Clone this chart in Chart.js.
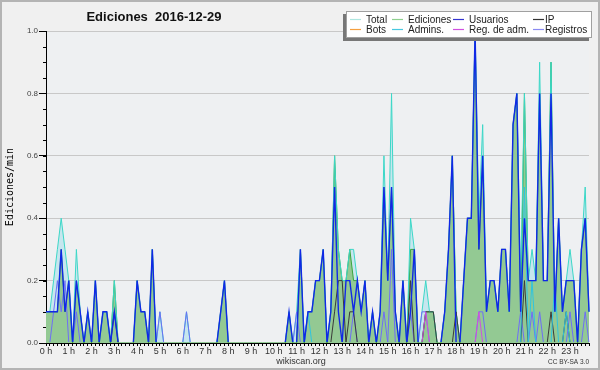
<!DOCTYPE html>
<html>
<head>
<meta charset="utf-8">
<script src="https://cdn.jsdelivr.net/npm/chart.js@4.4.1/dist/chart.umd.min.js"></script>
<style>
  html, body { margin: 0; padding: 0; background: #f0f0f0; }
  #wrap { width: 600px; height: 370px; }
</style>
</head>
<body>
<div id="wrap"><canvas id="chart" width="600" height="370"></canvas></div>
<script>
// tramos de 10 minutos, 0:00 .. 23:50
const slots = [];
for (let h = 0; h < 24; h++) for (let m = 0; m < 60; m += 10) slots.push(h + ':' + String(m).padStart(2, '0'));

// ediciones por minuto, una fila por hora (6 tramos)
const total = [
  0.1,0.1,0.2,0.3,0.4,0.3,  0.2,0,0.3,0.1,0,0.1,  0,0.2,0,0.1,0.1,0,  0.2,0,0,0,0,0,
  0.2,0.1,0.1,0,0.3,0,  0.1,0,0,0,0,0,  0,0.1,0,0,0,0,  0,0,0,0,0.1,0.2,
  0,0,0,0,0,0,  0,0,0,0,0,0,  0,0,0,0,0.1,0,  0.1,0.3,0,0.1,0.1,0.2,
  0.2,0.3,0,0.1,0.6,0.3,  0.2,0.2,0.3,0.3,0.2,0.1,  0.2,0,0.1,0,0.1,0.6,  0.2,0.8,0.1,0,0.2,0,
  0.4,0.3,0,0.1,0.2,0.1,  0.1,0,0,0.1,0.3,0.6,  0.1,0,0.2,0.4,0.4,1.0,  0.4,0.7,0.1,0.2,0.2,0.1,
  0.3,0.3,0.1,0.7,0.8,0.2,  0.8,0.2,0.3,0.2,0.9,0.2,  0.2,0.9,0.1,0.4,0.1,0.2,  0.3,0.2,0,0.3,0.5,0.1
];
const ediciones = [
  0.1,0.1,0.1,0.1,0.3,0.1,  0.2,0,0.2,0.1,0,0.1,  0,0.2,0,0.1,0.1,0,  0.2,0,0,0,0,0,
  0.2,0.1,0.1,0,0.3,0,  0,0,0,0,0,0,  0,0,0,0,0,0,  0,0,0,0,0.1,0.2,
  0,0,0,0,0,0,  0,0,0,0,0,0,  0,0,0,0,0.1,0,  0,0.3,0,0.1,0.1,0.2,
  0.2,0.3,0,0.1,0.6,0.3,  0.2,0.2,0.3,0.2,0.2,0.1,  0.2,0,0.1,0,0.1,0.5,  0.2,0.5,0.1,0,0.2,0,
  0.3,0.3,0,0,0.1,0.1,  0.1,0,0,0.1,0.3,0.6,  0.1,0,0.2,0.4,0.4,1.0,  0.3,0.6,0.1,0.2,0.2,0.1,
  0.3,0.3,0.1,0.7,0.8,0.1,  0.8,0.2,0.2,0.2,0.8,0.2,  0.2,0.9,0.1,0.4,0.1,0.2,  0.2,0.2,0,0.3,0.4,0.1
];
const usuarios = [
  0.1,0.1,0.1,0.1,0.3,0.1,  0.2,0,0.2,0.1,0,0.1,  0,0.2,0,0.1,0.1,0,  0.1,0,0,0,0,0,
  0.2,0.1,0.1,0,0.3,0,  0,0,0,0,0,0,  0,0,0,0,0,0,  0,0,0,0,0.1,0.2,
  0,0,0,0,0,0,  0,0,0,0,0,0,  0,0,0,0,0.1,0,  0,0.3,0,0.1,0.1,0.2,
  0.2,0.3,0,0.1,0.5,0.1,  0,0.2,0.2,0.1,0.2,0.1,  0.2,0,0.1,0,0.1,0.5,  0.2,0.5,0.1,0,0.2,0,
  0.1,0.3,0,0,0,0,  0,0,0,0.1,0.3,0.6,  0,0,0.2,0.4,0.4,1.0,  0.3,0.6,0.1,0.2,0.2,0.1,
  0.3,0.3,0.1,0.7,0.8,0.1,  0.4,0.2,0.2,0.2,0.8,0.2,  0.2,0.8,0.1,0.4,0.1,0.2,  0.2,0.2,0,0.3,0.4,0.1
];
const ip = [
  0,0,0,0,0,0,  0,0,0,0,0,0,  0,0,0,0,0,0,  0.1,0,0,0,0,0,
  0,0,0,0,0,0,  0,0,0,0,0,0,  0,0,0,0,0,0,  0,0,0,0,0,0,
  0,0,0,0,0,0,  0,0,0,0,0,0,  0,0,0,0,0,0,  0,0,0,0,0,0,
  0,0,0,0,0.1,0.2,  0.2,0,0.1,0.1,0,0,  0,0,0,0,0,0,  0,0,0,0,0,0,
  0.2,0,0,0,0.1,0.1,  0.1,0,0,0,0,0,  0.1,0,0,0,0,0,  0,0,0,0,0,0,
  0,0,0,0,0,0,  0.2,0,0,0,0,0,  0,0.1,0,0,0,0.1,  0,0,0,0,0,0
];
const bots = new Array(144).fill(0);
const admins = [
  0,0,0,0,0,0,  0,0,0,0,0,0,  0,0,0,0,0,0,  0,0,0,0,0,0,
  0,0,0,0,0,0,  0,0,0,0,0,0,  0,0,0,0,0,0,  0,0,0,0,0,0,
  0,0,0,0,0,0,  0,0,0,0,0,0,  0,0,0,0,0,0,  0,0,0,0.1,0,0,
  0,0,0,0,0,0,  0,0,0,0,0,0,  0,0,0,0,0,0,  0,0,0,0,0,0,
  0,0,0,0,0,0,  0,0,0,0,0,0,  0,0,0,0,0,0,  0,0,0,0,0,0,
  0,0,0,0,0,0,  0.5,0,0.2,0,0,0,  0,0,0.2,0,0,0.1,  0,0,0,0,0,0
];
const regAdm = [
  0,0,0,0,0,0,  0,0,0,0,0,0,  0,0,0,0,0,0,  0,0,0,0,0,0,
  0,0,0,0,0,0,  0,0,0,0,0,0,  0,0,0,0,0,0,  0,0,0,0,0,0,
  0,0,0,0,0,0,  0,0,0,0,0,0,  0,0,0,0,0,0,  0,0,0,0,0,0,
  0,0,0,0,0,0,  0,0,0,0,0,0,  0,0,0,0,0,0,  0,0,0,0,0,0,
  0,0,0,0,0.1,0,  0,0,0,0,0,0,  0,0,0,0,0,0,  0.1,0,0,0,0,0,
  0,0,0,0,0,0,  0,0,0,0,0,0,  0,0,0,0,0,0,  0,0,0,0,0,0
];
const registros = [
  0,0,0.1,0.2,0.1,0.2,  0,0,0.1,0,0,0,  0,0,0,0,0,0,  0,0,0,0,0,0,
  0,0,0,0,0,0,  0.1,0,0,0,0,0,  0,0.1,0,0,0,0,  0,0,0,0,0,0,
  0,0,0,0,0,0,  0,0,0,0,0,0,  0,0,0,0,0,0,  0.1,0,0,0,0,0,
  0,0,0,0,0,0,  0,0,0,0.1,0,0,  0,0,0,0,0,0.1,  0,0.3,0,0,0,0,
  0.1,0,0,0.1,0.1,0,  0,0,0,0,0,0,  0,0,0,0,0,0,  0.1,0.1,0,0,0,0,
  0,0,0,0,0,0.1,  0,0,0.1,0,0.1,0,  0,0,0,0,0,0,  0.1,0,0,0,0.1,0
];

const yTickStep = 0.2;
const yMinorStep = 0.05;

const FONT = '"Liberation Sans", Arial, sans-serif';

// las líneas se recortan 1px sobre el eje para no pintar encima de él en cero
function line(label, data, color, width, order, legendColor) {
  return { label, data, borderColor: color, borderWidth: width, fill: false, order,
           pointRadius: 0, tension: 0, clip: { left: 2, right: 2, top: 2, bottom: -1 },
           legendColor: legendColor || color };
}

const datasets = [
  { label: 'Total', data: total, borderWidth: 0, borderColor: 'rgba(0,0,0,0)',
    backgroundColor: '#c6e6ee', fill: 'origin', order: 20, pointRadius: 0, tension: 0,
    legendColor: '#aee6e0' },
  { label: 'Ediciones', data: ediciones, borderColor: '#3aa53a', borderWidth: 1,
    backgroundColor: '#93c993', fill: 'origin', order: 19, pointRadius: 0, tension: 0,
    legendColor: '#8fd08f' },
  Object.assign(line('', total, '#3cd8c8', 1, 18), { noLegend: true }),
  line('Registros', registros, '#6e6ef6', 1, 17, '#8a8af2'),
  line('IP', ip, '#3a3a3a', 1, 16, '#333333'),
  line('Admins.', admins, '#30c4e0', 1, 15, '#48c8e0'),
  line('Usuarios', usuarios, '#1028e6', 1.4, 14, '#3434d0'),
  line('Reg. de adm.', regAdm, '#d050e0', 1, 13),
  line('Bots', bots, '#f5a040', 1, 12)
];

const legendOrder = ['Total', 'Ediciones', 'Usuarios', 'IP', 'Bots', 'Admins.', 'Reg. de adm.', 'Registros'];

const decor = {
  id: 'decor',
  beforeDraw(chart) {
    const { ctx, chartArea: a } = chart;
    ctx.save();
    ctx.fillStyle = '#f0f0f0';
    ctx.fillRect(0, 0, chart.width, chart.height);
    ctx.strokeStyle = '#b4b4b4';
    ctx.lineWidth = 2;
    ctx.strokeRect(1, 1, chart.width - 2, chart.height - 2);
    ctx.fillStyle = '#eef0f2';
    ctx.fillRect(a.left, a.top, a.right - a.left, a.bottom - a.top);
    ctx.restore();
  },
  afterDraw(chart) {
    const { ctx, chartArea: a } = chart;
    const y = chart.scales.y;
    ctx.save();
    // minor ticks on y
    ctx.strokeStyle = '#000';
    ctx.lineWidth = 1;
    for (let v = 0; v <= 1.0001; v += yMinorStep) {
      const py = Math.round(y.getPixelForValue(v)) + 0.5;
      ctx.beginPath();
      ctx.moveTo(a.left - 3, py);
      ctx.lineTo(a.left, py);
      ctx.stroke();
    }
    // title
    ctx.fillStyle = '#111';
    ctx.font = 'bold 13px ' + FONT;
    ctx.textAlign = 'center';
    ctx.textBaseline = 'alphabetic';
    ctx.fillText('Ediciones  2016-12-29', 154, 21);
    // footer
    ctx.font = '9px ' + FONT;
    ctx.fillStyle = '#333';
    ctx.fillText('wikiscan.org', 301, 364);
    ctx.font = '6.5px ' + FONT;
    ctx.textAlign = 'right';
    ctx.fillText('CC BY-SA 3.0', 589, 364);
    // legend
    const bx = 346, by = 11, bw = 246, bh = 27;
    ctx.fillStyle = '#777';
    ctx.fillRect(bx - 3, by + 3, bw, bh);
    ctx.fillStyle = '#fff';
    ctx.fillRect(bx, by, bw, bh);
    ctx.strokeStyle = '#a0a0a0';
    ctx.lineWidth = 1;
    ctx.strokeRect(bx + 0.5, by + 0.5, bw - 1, bh - 1);
    const colX = [350, 392, 453, 533];
    const txtX = [366, 408, 469, 545];
    const rowY = [19, 29];
    ctx.font = '10px ' + FONT;
    ctx.textAlign = 'left';
    ctx.textBaseline = 'middle';
    legendOrder.forEach((name, k) => {
      const ds = chart.data.datasets.find(d => d.label === name);
      const c = k % 4, r = Math.floor(k / 4);
      ctx.strokeStyle = ds.legendColor;
      ctx.lineWidth = 1.2;
      ctx.beginPath();
      ctx.moveTo(colX[c], rowY[r] + 0.5);
      ctx.lineTo(colX[c] + 11, rowY[r] + 0.5);
      ctx.stroke();
      ctx.fillStyle = '#222';
      ctx.fillText(name, txtX[c], rowY[r] + 1);
    });
    ctx.restore();
  }
};

new Chart(document.getElementById('chart'), {
  type: 'line',
  data: { labels: slots, datasets },
  options: {
    responsive: false,
    animation: false,
    devicePixelRatio: 1,
    layout: { padding: { top: 31, right: 11, left: 0, bottom: 0 } },
    plugins: { legend: { display: false }, title: { display: false }, tooltip: { enabled: false } },
    scales: {
      x: {
        type: 'category',
        offset: false,
        z: 1,
        afterFit(s) { s.height = 27; },
        border: { display: true, color: '#000', width: 1 },
        grid: { drawOnChartArea: false, drawTicks: true, tickLength: 3, color: '#000', tickColor: '#000' },
        ticks: {
          autoSkip: false, maxRotation: 0, minRotation: 0, padding: 0,
          color: '#333', font: { family: FONT, size: 9 },
          callback: (v, i) => (i % 6 === 0 ? (i / 6) + ' h' : '')
        }
      },
      y: {
        min: 0, max: 1,
        afterFit(s) { s.width = 46; },
        border: { display: true, color: '#000', width: 1 },
        grid: { color: '#c8c8c8', tickColor: '#000', tickLength: 7 },
        ticks: {
          stepSize: yTickStep, padding: 1, color: '#444',
          font: { family: FONT, size: 8 },
          callback: v => v.toFixed(1)
        },
        title: {
          display: true, text: 'Ediciones/min', color: '#000',
          font: { family: '"DejaVu Sans Mono", monospace', size: 10 },
          padding: { top: 4, bottom: 0 }
        }
      }
    }
  },
  plugins: [decor]
});
</script>
</body>
</html>
